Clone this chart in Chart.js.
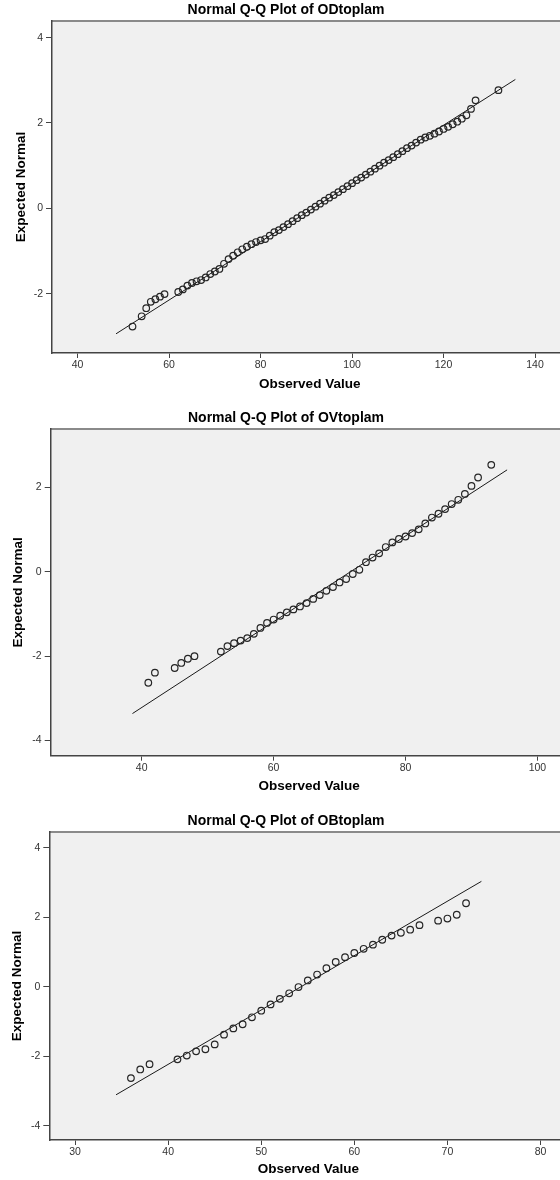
<!DOCTYPE html>
<html>
<head>
<meta charset="utf-8">
<script src="https://cdn.jsdelivr.net/npm/chart.js@4"></script>
<style>
  html, body { margin: 0; padding: 0; background: #fff; overflow: hidden; }
  #page { position: relative; width: 560px; height: 1180px; overflow: hidden; }
  canvas { position: absolute; left: 0; }
</style>
</head>
<body>
<div id="page">
  <canvas id="qqOD" width="572" height="395" style="top:0px"></canvas>
  <canvas id="qqOV" width="572" height="389" style="top:408px"></canvas>
  <canvas id="qqOB" width="572" height="369" style="top:811px"></canvas>
</div>
<script>
// ODtoplam
const odObserved = [52, 54, 55, 56, 57, 58, 59, 62, 63, 64, 65, 66, 67, 68, 69, 70, 71, 72, 73, 74,
  75, 76, 77, 78, 79, 80, 81, 82, 83, 84, 85, 86, 87, 88, 89, 90, 91, 92, 93, 94,
  95, 96, 97, 98, 99, 100, 101, 102, 103, 104, 105, 106, 107, 108, 109, 110, 111, 112, 113, 114,
  115, 116, 117, 118, 119, 120, 121, 122, 123, 124, 125, 126, 127, 132];
const odExpected = [-2.77, -2.53, -2.34, -2.19, -2.13, -2.07, -2.01, -1.96, -1.90, -1.81, -1.75, -1.71, -1.68, -1.62, -1.54, -1.48, -1.42, -1.30, -1.19, -1.11,
  -1.03, -0.96, -0.90, -0.84, -0.79, -0.75, -0.72, -0.64, -0.56, -0.51, -0.44, -0.37, -0.30, -0.23, -0.16, -0.10, -0.03, 0.04, 0.11, 0.18,
  0.25, 0.31, 0.38, 0.45, 0.52, 0.59, 0.66, 0.72, 0.79, 0.86, 0.93, 1.00, 1.07, 1.13, 1.20, 1.27, 1.34, 1.41, 1.47, 1.54,
  1.61, 1.66, 1.70, 1.75, 1.80, 1.86, 1.91, 1.97, 2.03, 2.10, 2.18, 2.33, 2.53, 2.77];
const odLineX = [48.4, 135.7];
const odLineY = [-2.94, 3.02];

// OVtoplam
const ovObserved = [41, 42, 45, 46, 47, 48, 52, 53, 54, 55, 56, 57, 58, 59, 60, 61, 62, 63, 64, 65,
  66, 67, 68, 69, 70, 71, 72, 73, 74, 75, 76, 77, 78, 79, 80, 81, 82, 83, 84, 85,
  86, 87, 88, 89, 90, 91, 93];
const ovExpected = [-2.63, -2.39, -2.28, -2.16, -2.06, -2.00, -1.89, -1.76, -1.69, -1.63, -1.57, -1.47, -1.33, -1.21, -1.13, -1.04, -0.96, -0.89, -0.82, -0.74,
  -0.64, -0.55, -0.45, -0.36, -0.25, -0.17, -0.05, 0.05, 0.23, 0.34, 0.44, 0.59, 0.70, 0.78, 0.84, 0.92, 1.01, 1.15, 1.29, 1.38,
  1.49, 1.61, 1.71, 1.85, 2.04, 2.24, 2.54];
const ovLineX = [38.6, 95.4];
const ovLineY = [-3.36, 2.42];

// OBtoplam
const obObserved = [36, 37, 38, 41, 42, 43, 44, 45, 46, 47, 48, 49, 50, 51, 52, 53, 54, 55, 56, 57,
  58, 59, 60, 61, 62, 63, 64, 65, 66, 67, 69, 70, 71, 72];
const obExpected = [-2.63, -2.38, -2.23, -2.09, -1.98, -1.86, -1.80, -1.66, -1.38, -1.20, -1.08, -0.88, -0.69, -0.51, -0.35, -0.19, -0.01, 0.18, 0.35, 0.53,
  0.71, 0.85, 0.97, 1.09, 1.21, 1.35, 1.47, 1.55, 1.64, 1.77, 1.90, 1.96, 2.07, 2.40];
const obLineX = [34.4, 73.65];
const obLineY = [-3.11, 3.03];

const FONT = '"Liberation Sans", Arial, sans-serif';

const plotBackground = {
  id: 'plotBackground',
  beforeDraw(chart) {
    const { ctx, chartArea: { top, bottom, left, right } } = chart;
    ctx.save();
    ctx.fillStyle = '#f0f0f0';
    ctx.fillRect(left, top, right - left, bottom - top);
    ctx.strokeStyle = '#8a8a8a';
    ctx.lineWidth = 2;
    ctx.beginPath();
    ctx.moveTo(left, top);
    ctx.lineTo(right, top);
    ctx.stroke();
    ctx.restore();
  },
};

function pairs(xs, ys) {
  return xs.map((x, i) => ({ x: x, y: ys[i] }));
}

function makeQQ(id, title, obs, exp, lineX, lineY, frame) {
  const data = {
    datasets: [
      {
        data: pairs(obs, exp),
        pointRadius: 3.3,
        pointBorderWidth: 1.2,
        pointBorderColor: '#262626',
        pointBackgroundColor: 'rgba(0,0,0,0)',
        pointHoverRadius: 3.3,
      },
      {
        data: pairs(lineX, lineY),
        showLine: true,
        borderColor: '#1a1a1a',
        borderWidth: 1,
        pointRadius: 0,
      },
    ],
  };

  const axisTitle = (text, pad) => ({
    display: true,
    text: text,
    color: '#000',
    font: { family: FONT, size: 13.5, weight: 'bold' },
    padding: pad,
  });

  return new Chart(document.getElementById(id), {
    type: 'scatter',
    data,
    options: {
      responsive: false,
      animation: false,
      layout: { padding: 0 },
      plugins: {
        legend: { display: false },
        tooltip: { enabled: false },
        title: {
          display: true,
          text: title,
          color: '#000',
          font: { family: FONT, size: 14, weight: 'bold' },
          padding: { top: 2, bottom: 2.2 },
        },
      },
      scales: {
        x: {
          type: 'linear',
          min: frame.xMin,
          max: frame.xMax,
          afterFit: (scale) => { scale.height = frame.xAxisHeight; },
          ticks: {
            stepSize: frame.xStep,
            includeBounds: false,
            color: '#333',
            padding: 1,
            font: { family: FONT, size: 10.5 },
          },
          grid: { drawOnChartArea: false, drawTicks: true, tickLength: 5, color: '#444' },
          border: { display: true, color: '#444', width: 1.5 },
          title: axisTitle('Observed Value', { top: 0, bottom: 2.9 }),
        },
        y: {
          type: 'linear',
          min: frame.yMin,
          max: frame.yMax,
          afterFit: (scale) => { scale.width = frame.yAxisWidth; },
          ticks: {
            stepSize: 2,
            includeBounds: false,
            color: '#333',
            padding: 3,
            font: { family: FONT, size: 10.5 },
          },
          grid: { drawOnChartArea: false, drawTicks: true, tickLength: 6, color: '#444' },
          border: { display: true, color: '#444', width: 1.5 },
          title: axisTitle('Expected Normal', { top: frame.yTitlePad, bottom: 0 }),
        },
      },
    },
    plugins: [plotBackground],
  });
}

makeQQ('qqOD', 'Normal Q-Q Plot of ODtoplam', odObserved, odExpected, odLineX, odLineY, {
  xMin: 34.4, xMax: 147.1, xStep: 20, yMin: -3.39, yMax: 4.39,
  xAxisHeight: 42, yAxisWidth: 52, yTitlePad: 12.9,
});
makeQQ('qqOV', 'Normal Q-Q Plot of OVtoplam', ovObserved, ovExpected, ovLineX, ovLineY, {
  xMin: 26.2, xMax: 104.56, xStep: 20, yMin: -4.36, yMax: 3.39,
  xAxisHeight: 41.3, yAxisWidth: 50.7, yTitlePad: 10.6,
});
makeQQ('qqOB', 'Normal Q-Q Plot of OBtoplam', obObserved, obExpected, obLineX, obLineY, {
  xMin: 27.23, xMax: 82.9, xStep: 10, yMin: -4.41, yMax: 4.45,
  xAxisHeight: 40, yAxisWidth: 49.3, yTitlePad: 9,
});
</script>
</body>
</html>
